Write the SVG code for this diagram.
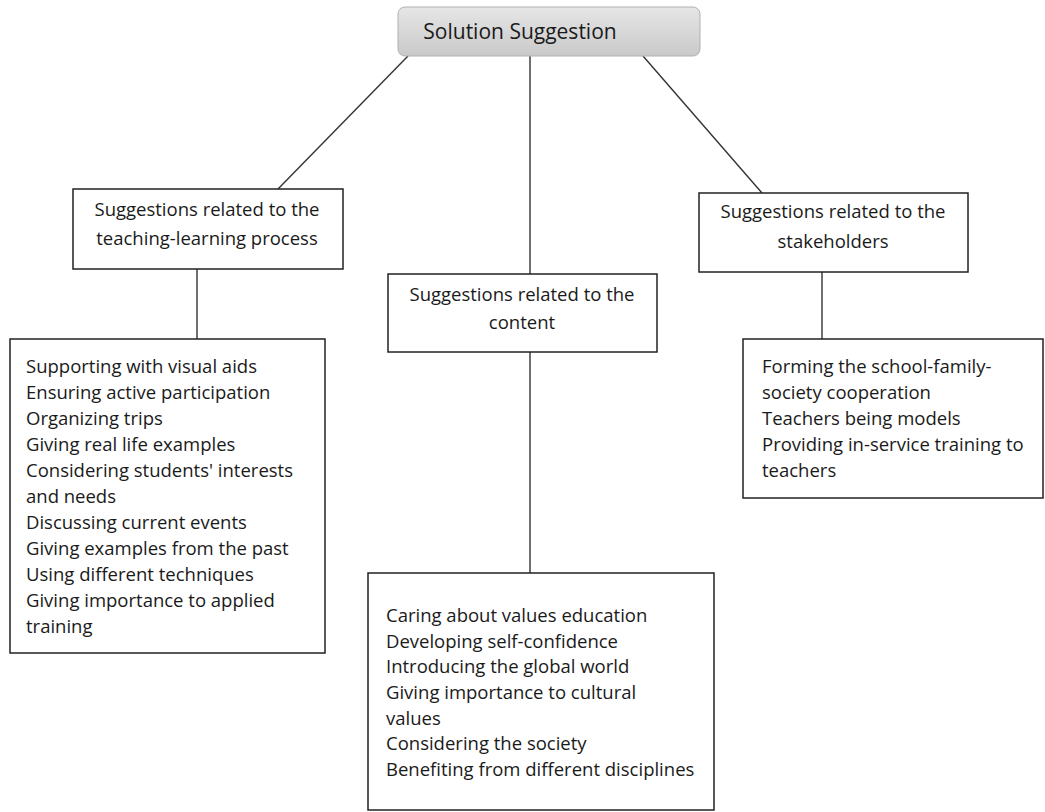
<svg xmlns="http://www.w3.org/2000/svg" width="1045" height="812" viewBox="0 0 1045 812">
<style>
.box{fill:#fff;stroke:#222;stroke-width:1.5}
.t{font-family:"Open Sans","Liberation Sans",Arial,sans-serif;font-size:18.5px;fill:#1a1a1a}
.c{text-anchor:middle}
.h{font-size:21px}
.ln{stroke:#333;stroke-width:1.4;fill:none}
</style>
<defs>
<linearGradient id="g" x1="0" y1="0" x2="0" y2="1">
<stop offset="0" stop-color="#e6e6e6"/>
<stop offset="1" stop-color="#c9c9c9"/>
</linearGradient>
</defs>
<rect width="1045" height="812" fill="#fff"/>
<g id="connectors">
<line class="ln" x1="408" y1="56" x2="278" y2="189"/>
<line class="ln" x1="530" y1="56" x2="530" y2="274"/>
<line class="ln" x1="643" y1="56" x2="762" y2="193"/>
<line class="ln" x1="197" y1="269" x2="197" y2="339"/>
<line class="ln" x1="822" y1="272" x2="822" y2="339"/>
<line class="ln" x1="530" y1="352" x2="530" y2="573"/>
</g>
<g id="root">
<rect x="398" y="7" width="302" height="49" rx="7" fill="url(#g)" stroke="#b0b0b0" stroke-width="1"/>
<text class="t c h" x="520" y="39">Solution Suggestion</text>
</g>
<g id="n-teaching">
<rect class="box" x="73" y="189" width="270" height="80"/>
<text class="t c" x="207" y="216">Suggestions related to the</text>
<text class="t c" x="207" y="245">teaching-learning process</text>
</g>
<g id="n-content">
<rect class="box" x="388" y="274" width="269" height="78"/>
<text class="t c" x="522" y="301">Suggestions related to the</text>
<text class="t c" x="522" y="329">content</text>
</g>
<g id="n-stakeholders">
<rect class="box" x="699" y="193" width="269" height="79"/>
<text class="t c" x="833" y="218">Suggestions related to the</text>
<text class="t c" x="833" y="248">stakeholders</text>
</g>
<g id="n-teaching-list">
<rect class="box" x="10" y="339" width="315" height="314"/>
<text class="t" x="26" y="373">Supporting with visual aids</text>
<text class="t" x="26" y="399">Ensuring active participation</text>
<text class="t" x="26" y="425">Organizing trips</text>
<text class="t" x="26" y="451">Giving real life examples</text>
<text class="t" x="26" y="477">Considering students' interests</text>
<text class="t" x="26" y="503">and needs</text>
<text class="t" x="26" y="529">Discussing current events</text>
<text class="t" x="26" y="555">Giving examples from the past</text>
<text class="t" x="26" y="581">Using different techniques</text>
<text class="t" x="26" y="607">Giving importance to applied</text>
<text class="t" x="26" y="633">training</text>
</g>
<g id="n-stakeholders-list">
<rect class="box" x="743" y="339" width="300" height="159"/>
<text class="t" x="762" y="373">Forming the school-family-</text>
<text class="t" x="762" y="399">society cooperation</text>
<text class="t" x="762" y="425">Teachers being models</text>
<text class="t" x="762" y="451">Providing in-service training to</text>
<text class="t" x="762" y="477">teachers</text>
</g>
<g id="n-content-list">
<rect class="box" x="368" y="573" width="346" height="237"/>
<text class="t" x="386" y="622">Caring about values education</text>
<text class="t" x="386" y="648">Developing self-confidence</text>
<text class="t" x="386" y="673">Introducing the global world</text>
<text class="t" x="386" y="699">Giving importance to cultural</text>
<text class="t" x="386" y="725">values</text>
<text class="t" x="386" y="750">Considering the society</text>
<text class="t" x="386" y="776">Benefiting from different disciplines</text>
</g>
</svg>
